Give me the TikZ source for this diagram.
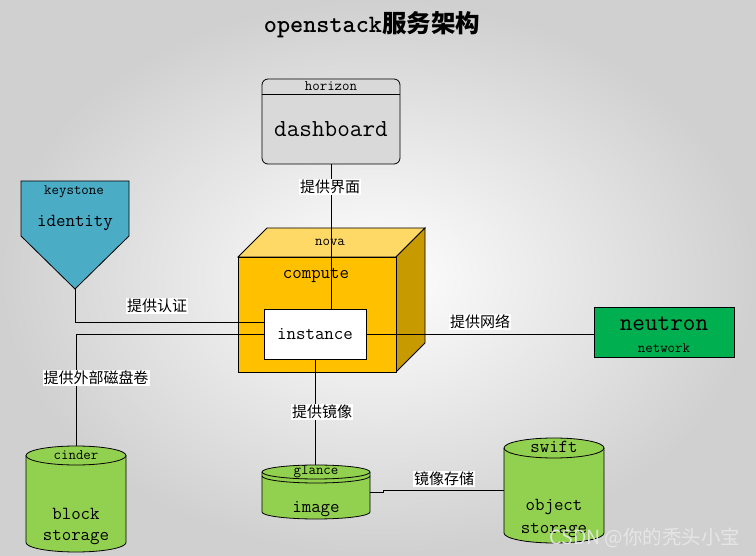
\documentclass[tikz,border=0pt]{standalone}
\usepackage{fontspec}
\newfontfamily\cjk{Noto Sans CJK SC}
\definecolor{hgray}{HTML}{D9D9D9}
\definecolor{ksblue}{HTML}{4BACC6}
\definecolor{cubefront}{HTML}{FFC000}
\definecolor{cubetop}{HTML}{FFD966}
\definecolor{cubeside}{HTML}{C79A00}
\definecolor{neugreen}{HTML}{00B050}
\definecolor{cylgreen}{HTML}{92D050}
\definecolor{bgedge}{RGB}{208,208,208}
\tikzset{
  lbl/.style={fill=white, inner sep=1pt, font=\cjk\fontsize{15}{15}\selectfont},
  bigtxt/.style={font=\ttfamily\fontsize{24.5}{25}\selectfont, inner sep=0pt, anchor=base},
  midtxt/.style={font=\ttfamily\fontsize{18.4}{19}\selectfont, inner sep=0pt, anchor=base},
  smltxt/.style={font=\ttfamily\fontsize{14.5}{15}\selectfont, inner sep=0pt, anchor=base},
  conn/.style={draw=black, line width=0.8pt},
  outl/.style={draw=black, line width=0.8pt},
}
\begin{document}
\begin{tikzpicture}[x=1pt,y=1pt]
\useasboundingbox (0,0) rectangle (756,555);
\shade[inner color=white, outer color=bgedge] (0,0) rectangle (756,555);

% title
\node[anchor=base, inner sep=0pt] (title) at (372,522)
  {{\ttfamily\bfseries\fontsize{25}{26}\selectfont openstack}{\cjk\bfseries\fontsize{24.5}{26}\selectfont 服务架构}};

% horizon
\node[outl, fill=hgray, rounded corners=6pt, minimum width=138pt, minimum height=85pt, inner sep=0pt] (hor) at (331,433.5) {};
\draw[outl] (hor.west |- 0,461) -- (hor.east |- 0,461);
\node[smltxt] (hortxt) at (331,464) {horizon};
\node[bigtxt] (dash) at (331,418) {dashboard};

% keystone
\draw[outl, fill=ksblue] (21,374) -- (129,374) -- (129,319) -- (75,266) -- (21,319) -- cycle;
\coordinate (kstip) at (75,266);
\node[smltxt] (kstxt) at (74,360) {keystone};
\node[midtxt] (idtxt) at (75,328) {identity};

% nova cube
\draw[outl, fill=cubetop] (238,298) -- (267,327) -- (425,327) -- (396,298) -- cycle;
\draw[outl, fill=cubeside] (396,298) -- (425,327) -- (425,212) -- (396,183) -- cycle;
\draw[outl, fill=cubefront] (238,183) rectangle (396,298);
\node[smltxt] (novatxt) at (330,309) {nova};
\node[midtxt] (comptxt) at (316,276) {compute};

% instance
\node[outl, fill=white, minimum width=102pt, minimum height=50pt, inner sep=0pt] (inst) at (315,221) {};

% neutron
\node[outl, fill=neugreen, minimum width=140pt, minimum height=50pt, inner sep=0pt] (neu) at (664,223) {};
\node[bigtxt] (neutxt) at (664,224) {neutron};
\node[smltxt] (nettxt) at (664,202) {network};

% cinder cylinder
\draw[outl, fill=cylgreen] (26,99.5) -- (26,12.5) arc[start angle=180, end angle=360, x radius=50, y radius=9.5]
  -- (126,99.5) arc[start angle=0, end angle=180, x radius=50, y radius=9.5] -- cycle;
\draw[outl] (26,99.5) arc[start angle=180, end angle=360, x radius=50, y radius=9.5];
\coordinate (cindertop) at (76,109);
\node[smltxt] (cindtxt) at (76,95) {cinder};
\node[midtxt] (blocktxt) at (76,35) {block};
\node[midtxt] (stortxt) at (76,15) {storage};

% glance cylinder
\draw[outl, fill=cylgreen] (262,83) -- (262,43) arc[start angle=180, end angle=360, x radius=54, y radius=7]
  -- (370,83) arc[start angle=0, end angle=180, x radius=54, y radius=7] -- cycle;
\draw[outl] (262,83) arc[start angle=180, end angle=360, x radius=54, y radius=7];
\draw[outl] (262,79) arc[start angle=180, end angle=360, x radius=54, y radius=7];
\coordinate (glancetop) at (316,90);
\coordinate (glanceright) at (370,63);
\node[smltxt] (glantxt) at (316,80) {glance};
\node[midtxt] (imgtxt) at (316,42.5) {image};

% swift cylinder
\draw[outl, fill=cylgreen] (504,107) -- (504,22) arc[start angle=180, end angle=360, x radius=50, y radius=10]
  -- (604,107) arc[start angle=0, end angle=180, x radius=50, y radius=10] -- cycle;
\draw[outl] (504,107) arc[start angle=180, end angle=360, x radius=50, y radius=10];
\coordinate (swiftleft) at (504,65);
\node[midtxt] (swifttxt) at (554,102) {swift};
\node[midtxt] (objtxt) at (554,45) {object};
\node[midtxt] (stor2txt) at (554,22) {storage};

% connectors
\draw[conn] (hor.south) -- (hor.south |- inst.north);
\draw[conn] (kstip) |- (inst.west |- 0,233);
\draw[conn] (inst.west) -| (cindertop);
\draw[conn] (inst.east) -- (inst.east -| neu.west);
\draw[conn] (inst.south) -- (inst.south |- glancetop);
\draw[conn] (glanceright) -- (383,63) -- (383,65) -- (swiftleft);

% instance text
\node[midtxt] (insttxt) at (315,215) {instance};

% labels
\node[lbl] (l1) at (330,368) {提供界面};
\node[lbl] (l2) at (157,249) {提供认证};
\node[lbl] (l3) at (96,177) {提供外部磁盘卷};
\node[lbl] (l4) at (480,233) {提供网络};
\node[lbl] (l5) at (322,143) {提供镜像};
\node[lbl] (l6) at (444,76) {镜像存储};

% watermark
\node[font=\cjk\fontsize{19.5}{20}\selectfont, text=white!82!gray, opacity=0.9, inner sep=0pt] (wm) at (645,17) {CSDN @你的秃头小宝};
\end{tikzpicture}
\end{document}
